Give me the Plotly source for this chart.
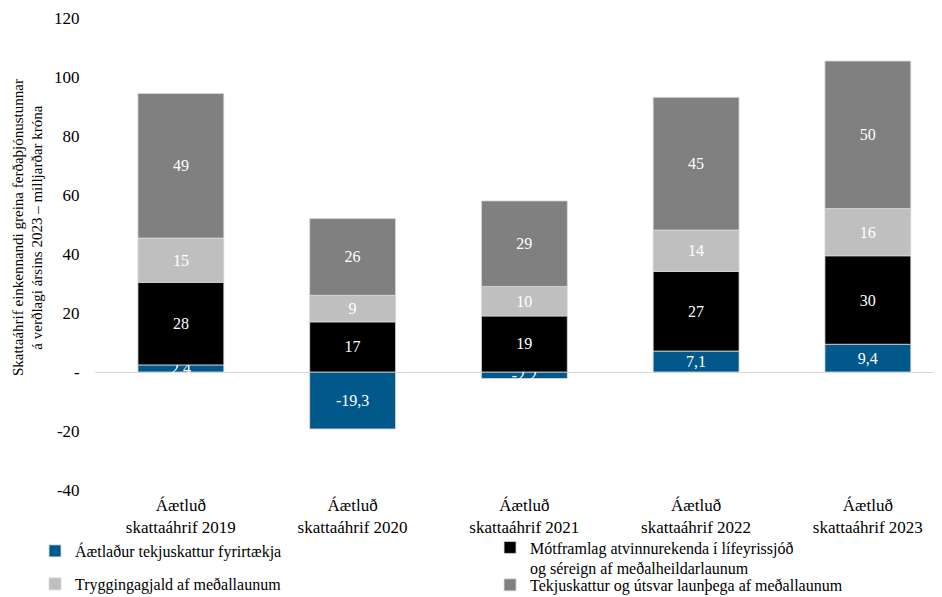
import plotly.graph_objects as go

categories = ["Áætluð<br>skattaáhrif 2019", "Áætluð<br>skattaáhrif 2020", "Áætluð<br>skattaáhrif 2021",
              "Áætluð<br>skattaáhrif 2022", "Áætluð<br>skattaáhrif 2023"]

corp_tax = [2.4, -19.3, -2.2, 7.1, 9.4]
pension = [28, 17, 19, 27, 30]
insurance = [15, 9, 10, 14, 16]
income_tax = [49, 26, 29, 45, 50]

series_names = [
    "Áætlaður tekjuskattur fyrirtækja",
    "Mótframlag atvinnurekenda í lífeyrissjóð<br>og séreign af meðalheildarlaunum",
    "Tryggingagjald af meðallaunum",
    "Tekjuskattur og útsvar launþega af meðallaunum",
]
series_colors = ["#00588B", "#000000", "#BFBFBF", "#808080"]

y_tickvals = [-40, -20, 0, 20, 40, 60, 80, 100, 120]
y_ticktext = ["-40", "-20", "-", "20", "40", "60", "80", "100", "120"]

FONT = "Liberation Serif"


def fmt(v, decimals):
    s = f"{v:.{decimals}f}"
    return s.replace(".", ",")


legend_ids = ["legend", "legend2", "legend3", "legend4"]

fig = go.Figure()
all_series = [(corp_tax, 1), (pension, 0), (insurance, 0), (income_tax, 0)]
for (vals, dec), name, col, lg in zip(all_series, series_names, series_colors, legend_ids):
    fig.add_trace(go.Bar(
        x=categories, y=vals, name=name, legend=lg,
        marker=dict(color=col, line=dict(color="#D9D9D9", width=0.8)),
        text=[fmt(v, dec) for v in vals],
        textposition="inside", insidetextanchor="middle", textangle=0,
        textfont=dict(color="white", size=16, family=FONT),
        hoverinfo="skip",
    ))

legend_font = dict(family=FONT, size=16, color="#000000")
col1_x = -0.071
col2_x = 0.4675


def make_legend(x, y, valign="middle"):
    return dict(x=x, y=y, xanchor="left", yanchor="middle", font=legend_font, valign=valign,
                bgcolor="rgba(0,0,0,0)", itemwidth=30, orientation="v")


fig.update_layout(
    barmode="relative",
    bargap=0.5,
    width=934, height=589,
    margin=dict(l=87, r=2, t=10, b=107, autoexpand=False),
    plot_bgcolor="white", paper_bgcolor="white",
    font=dict(family=FONT, size=17, color="#000000"),
    uniformtext=dict(minsize=16, mode="show"),
    showlegend=True,
    legend=make_legend(col1_x, -0.1292),
    legend2=make_legend(col2_x, -0.1441, valign="top"),
    legend3=make_legend(col1_x, -0.1992),
    legend4=make_legend(col2_x, -0.2012),
    xaxis=dict(
        range=[-0.5, 4.42], showgrid=False, showline=False, zeroline=False,
        tickfont=dict(family=FONT, size=17, color="#000000"), ticks="",
        ticklabelstandoff=3,
    ),
    yaxis=dict(
        range=[-40, 120], tickvals=y_tickvals, ticktext=y_ticktext,
        showgrid=False, showline=False, zeroline=True, zerolinecolor="#D9D9D9", zerolinewidth=1,
        ticks="outside", ticklen=11, tickcolor="rgba(0,0,0,0)",
        tickfont=dict(family=FONT, size=17, color="#000000"),
    ),
    annotations=[dict(
        text="Skattaáhrif einkennandi greina ferðaþjónustunnar<br>á verðlagi ársins 2023 – milljarðar króna",
        xref="paper", yref="paper", x=-0.0793, y=0.557, xanchor="center", yanchor="middle",
        textangle=-90, showarrow=False, font=dict(family=FONT, size=15, color="#000000"),
    )],
)

fig.write_html("out.html")
